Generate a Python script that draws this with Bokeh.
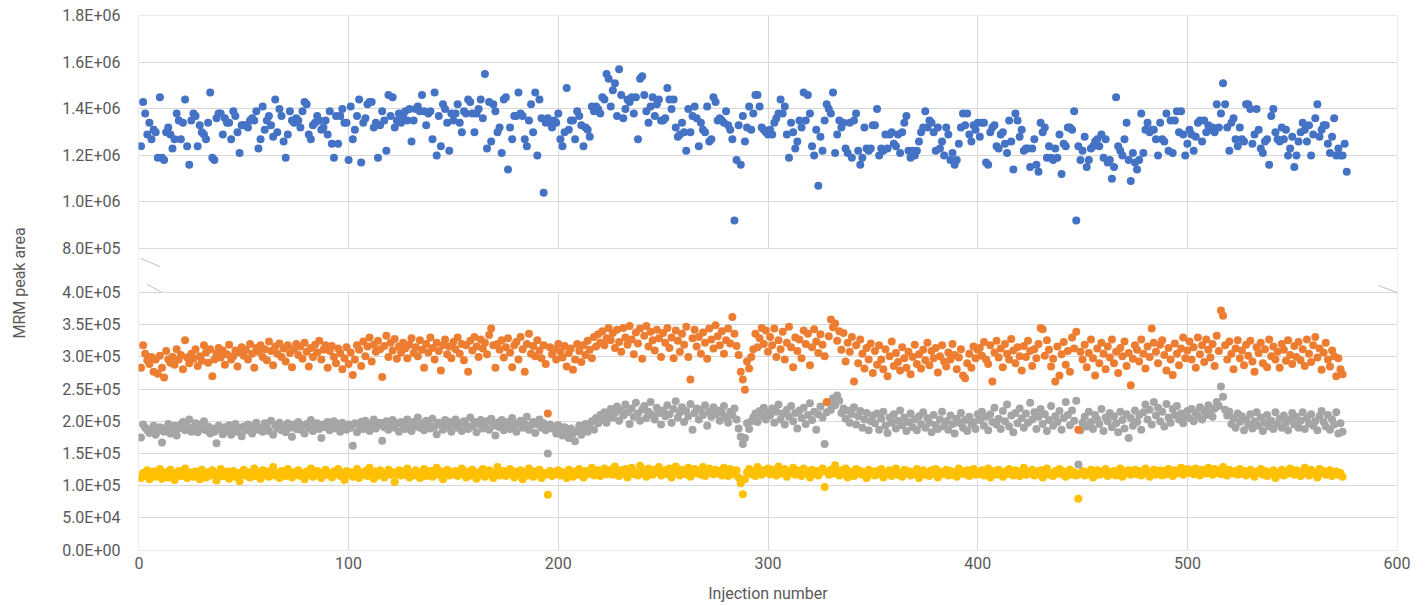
from bokeh.plotting import figure
from bokeh.models import FixedTicker, BoxAnnotation, Range1d
from bokeh.embed import file_html
from bokeh.resources import INLINE

# ---- data (values in thousands) ----
blue = [1240,1430,1380,1290,1340,1270,1310,1300,1190,1450,1190,1180,1300,1320,1290,1230,1270,1380,1350,1270,1340,1440,1240,1160,1350,
        1380,1370,1240,1330,1300,1290,1270,1340,1470,1190,1180,1360,1380,1380,1290,1360,1340,1340,1270,1390,1370,1300,1210,1330,1330,
        1330,1320,1350,1360,1350,1390,1230,1270,1410,1310,1350,1370,1330,1280,1440,1300,1400,1370,1260,1190,1290,1390,1350,1340,1360,
        1350,1320,1390,1430,1420,1290,1270,1330,1340,1370,1350,1310,1320,1350,1290,1390,1250,1190,1370,
        1250,1370,1400,1340,1340,1180,1410,1270,1310,1370,1440,1170,1340,1360,1420,1430,1430,1320,1340,1190,1330,1390,1350,1220,1460,
        1370,1450,1320,1350,1380,1340,1370,1390,1350,1400,1260,1350,1400,1410,1390,1460,1390,1330,1380,1390,1270,1470,1200,1370,1240,
        1420,1400,1340,1220,1380,1350,1380,1420,1340,1300,1390,1380,1440,1430,1380,1300,1380,1400,1440,1360,1550,1230,1430,1260,1420,
        1390,1300,1320,1210,1440,1450,1140,1320,1270,1370,1370,1470,1380,1370,1270,1240,1350,1420,1300,1470,1200,1440,1360,1040,1340,
        1360,1340,1320,1350,1340,1380,1270,1240,1300,1490,1310,1350,1350,1270,1390,1370,1330,1240,1320,1310,1280,1410,1390,1410,1400,
        1380,1450,1440,1550,1530,1410,1480,1510,1370,1570,1460,1360,1400,1440,1430,1450,1380,1450,1270,1530,1540,1460,1390,1340,1410,
        1450,1370,1420,1440,1350,1350,1360,1490,1440,1400,1440,1320,1280,1290,1340,1300,1220,1400,1300,1370,1410,1360,1240,1340,1310,
        1300,1410,1260,1270,1450,1430,1350,1360,1350,1340,1390,1330,1310,1270,920,1180,1330,1160,1370,1260,1320,1410,1310,
        1380,1460,1460,1410,1320,1310,1300,1290,1310,1290,1340,1360,1380,1440,1380,1410,1290,1190,1340,1300,1230,1260,1350,1320,1470,
        1350,1460,1380,1240,1200,1310,1070,1280,1220,1350,1420,1400,1380,1470,1210,1290,1350,1320,1340,1230,1210,1340,1190,1350,1380,
        1220,1160,1190,1320,1230,1220,1230,1330,1330,1400,1200,1230,1220,1290,1230,1290,1300,1250,1240,1290,1210,1300,1340,1370,1220,
        1190,1220,1200,1220,1260,1300,1320,1390,1320,1350,1340,1300,1220,1320,1230,1260,1200,1320,1290,1180,1210,1160,1180,1250,1320,1380,
        1330,1380,1290,1260,1330,1310,1340,1280,1340,1340,1170,1160,1300,1320,1330,1240,1230,1290,1300,1250,1210,1350,1260,1140,1380,
        1350,1280,1310,1220,1230,1230,1150,1230,1270,1160,1130,1340,1300,1320,1190,1240,1190,1180,1230,1190,1290,1120,1250,1240,1320,
        1320,1310,1390,920,1240,1180,1220,1280,1150,1180,1230,1240,1260,1270,1240,1290,1190,1270,1170,1180,1100,1150,1450,1240,1220,
        1200,1270,1340,1180,1090,1210,1170,1140,1180,1380,1210,1310,1340,1300,1310,1310,1270,1200,1340,1270,1260,1380,1220,1350,1210,
        1350,1390,1300,
        1390,1290,1200,1250,1310,1290,1220,1280,1340,1350,1260,1350,1300,1330,1310,1320,1300,1420,1320,1380,1510,1420,1320,1220,1340,
        1360,1270,1240,1320,1270,1260,1420,1420,1400,1250,1290,1400,1310,1230,1210,1260,1270,1160,1370,1400,1300,1270,1260,1320,1270,
        1310,1200,1230,1280,1150,1200,1260,1300,1340,1310,1260,1330,1200,1290,1360,1420,1280,1310,1330,1330,1250,1210,1280,1360,1200,
        1230,1200,1200,1250,1130]

orange = [283,318,305,295,289,300,277,296,274,302,283,268,309,296,291,300,288,312,296,303,281,326,299,290,305,
          297,312,286,301,294,318,307,291,312,270,296,305,314,299,310,288,304,319,296,301,310,285,307,315,302,
          311,296,320,305,283,314,308,318,300,312,295,324,309,287,316,305,321,300,313,293,318,306,284,312,320,
          303,316,297,322,308,285,314,300,319,307,325,296,311,318,283,309,317,300,290,313,306,281,298,315,289,
          307,272,296,318,311,286,324,301,316,330,293,319,308,325,312,269,317,333,300,322,310,328,297,316,307,
          322,313,298,319,329,306,315,301,326,311,283,320,307,330,314,296,322,309,279,318,327,304,316,298,323,
          312,330,305,320,295,318,277,325,310,331,316,300,327,313,322,304,334,344,318,283,320,311,326,299,315,
          329,307,284,318,323,296,331,312,277,320,336,305,317,301,326,310,298,318,289,212,315,304,312,296,320,
          308,299,317,285,306,313,280,296,320,309,292,318,303,325,311,298,331,316,335,322,340,318,329,345,326,
          337,314,342,323,308,345,330,319,348,327,304,338,321,344,297,333,348,316,339,326,310,342,329,300,337,
          322,345,314,330,298,341,325,308,336,319,347,300,265,329,342,316,331,305,338,322,297,344,327,313,349,
          332,318,340,305,326,344,321,362,336,317,303,277,265,249,293,282,300,312,336,315,329,345,320,341,308,
          331,318,344,300,326,312,339,296,322,347,315,284,330,309,327,298,341,320,336,287,315,343,324,306,335,
          319,301,230,332,358,346,352,325,340,311,337,293,322,308,331,262,318,290,327,305,282,314,296,321,275,
          309,288,318,296,281,312,270,301,324,286,306,292,279,315,298,283,308,273,300,319,289,304,282,311,295,
          322,287,309,298,314,276,301,318,293,285,307,296,320,303,281,299,312,271,267,290,305,283,316,298,311,
          314,302,323,296,289,318,262,307,325,299,313,284,320,305,296,328,310,290,315,301,279,317,300,325,309,
          286,312,298,320,345,343,302,326,311,285,297,262,316,271,304,323,288,309,277,330,313,339,187,308,296,
          319,284,306,327,298,271,313,290,322,305,281,316,299,327,290,308,275,314,301,324,286,306,256,297,318,
          311,293,327,305,282,316,300,344,322,308,290,319,326,303,279,314,296,272,321,305,287,313,330,298,310,
          324,296,315,283,330,304,318,292,327,311,299,320,286,333,309,372,364,318,296,324,305,281,313,326,298,
          310,287,319,302,325,293,277,315,306,322,290,312,284,327,301,316,296,308,283,320,311,294,326,303,289,
          317,300,323,295,312,286,327,305,292,318,331,299,313,280,307,322,296,285,310,301,270,298,281,273]

gray = [175,195,190,186,182,188,193,179,185,191,167,184,190,196,181,187,193,178,189,195,199,186,192,203,184,
        190,197,183,195,188,200,186,192,181,189,184,166,193,187,180,191,185,194,179,188,196,184,190,177,192,
        186,195,189,181,193,198,187,190,184,197,191,185,201,179,194,189,198,186,192,183,197,190,176,195,188,
        199,187,194,181,196,190,202,185,193,197,188,174,195,191,199,186,193,200,189,196,184,198,191,187,195,
        190,162,197,183,193,199,188,201,192,185,196,203,189,194,198,170,191,200,187,195,202,190,197,184,199,
        193,188,203,196,185,199,192,206,190,197,186,201,194,189,204,192,180,198,195,187,202,191,199,184,196,
        203,190,197,185,200,194,188,206,192,199,183,196,202,189,195,200,187,204,193,178,198,191,202,186,195,
        199,188,205,193,184,197,201,190,196,207,187,194,199,182,195,203,190,197,186,150,195,189,192,181,194,
        186,178,191,183,174,189,181,169,185,193,179,188,196,184,191,200,187,205,197,210,202,214,198,208,219,
        206,213,223,201,217,209,226,214,196,220,207,229,212,201,218,224,205,215,230,210,203,221,213,195,217,
        208,225,211,198,219,231,206,214,222,199,216,208,227,187,213,220,203,218,210,225,193,215,207,222,211,
        217,201,213,224,206,198,215,209,220,203,189,176,165,174,197,188,200,206,212,199,216,208,221,203,214,
        209,220,198,215,226,203,212,195,218,207,224,200,213,189,217,205,221,196,210,228,202,215,187,211,223,
        206,165,214,229,218,236,225,240,232,213,220,204,217,198,211,222,195,208,216,190,203,213,186,200,209,
        197,212,187,204,215,193,182,206,198,211,189,201,217,194,206,185,199,212,191,203,186,208,196,214,190,
        205,198,183,210,194,188,203,215,192,200,187,209,196,181,204,198,213,190,202,185,207,195,199,188,211,
        202,215,193,207,186,211,199,221,195,204,188,216,200,226,192,209,183,213,197,220,205,190,212,198,229,
        203,214,188,207,219,196,211,185,202,224,193,208,199,216,187,205,230,210,194,217,201,232,133,186,198,
        207,192,215,199,188,210,203,196,219,185,206,200,213,191,208,197,183,215,202,189,211,174,205,193,217,
        199,210,187,214,226,203,218,195,230,209,221,200,215,192,227,206,198,219,210,224,203,212,197,208,216,
        205,219,200,213,208,222,203,216,210,225,214,207,220,230,224,254,238,218,209,215,196,205,190,212,199,
        208,186,203,195,211,189,200,214,193,206,185,198,210,192,201,188,214,196,204,190,209,198,186,203,213,
        195,207,190,201,214,188,205,197,211,193,200,186,208,216,199,192,210,187,203,195,214,181,197,184]

yellow = [112,120,116,124,110,118,122,114,119,126,111,117,121,113,125,116,109,120,123,115,118,127,112,119,121,
          114,122,117,110,125,119,113,121,116,124,118,108,120,126,115,119,122,111,117,123,114,120,107,118,125,
          116,121,113,119,127,115,120,111,124,117,122,114,118,129,116,120,112,123,118,115,126,119,113,121,117,
          124,115,120,110,122,118,127,114,119,123,116,112,121,125,117,119,113,122,118,126,115,120,109,123,117,
          121,114,119,126,112,120,117,123,115,128,118,111,122,116,124,119,113,120,125,117,121,106,118,124,116,
          122,117,127,113,120,116,124,118,112,121,126,115,119,123,114,120,128,117,122,110,119,125,116,121,118,
          123,115,120,127,118,113,122,116,125,119,111,121,117,126,114,120,124,118,112,121,129,116,119,123,115,
          120,126,117,113,122,118,124,110,121,116,127,119,114,122,118,125,112,120,117,86,123,115,121,118,124,
          116,121,118,112,125,119,114,122,117,126,120,113,123,118,121,128,116,119,124,115,122,127,118,121,125,
          117,130,120,115,124,119,126,113,122,128,118,121,116,131,119,124,114,127,120,117,125,122,129,116,121,
          124,118,127,113,121,130,119,116,125,122,118,128,114,121,126,119,124,117,129,115,122,127,120,118,125,
          119,123,116,128,121,115,126,122,118,124,113,104,87,110,121,126,118,123,115,129,120,117,124,121,127,
          118,125,121,116,130,122,119,126,114,123,120,128,117,124,121,115,127,119,122,113,125,118,123,116,121,
          127,98,122,117,125,119,132,121,116,124,118,127,113,122,120,115,126,119,123,117,121,112,125,118,122,
          116,123,119,126,113,121,118,124,115,122,127,117,120,114,125,119,123,116,121,118,126,112,120,124,117,
          121,115,124,119,126,113,122,118,120,125,116,123,117,121,114,127,119,122,118,124,115,120,126,117,121,
          118,124,116,121,127,113,120,123,117,125,119,114,122,118,126,121,116,124,120,115,123,128,117,121,119,
          125,116,122,118,124,113,121,127,117,120,115,123,119,126,118,122,114,120,125,117,121,116,80,119,123,
          116,121,118,125,113,120,124,117,122,119,126,115,121,118,123,116,120,127,114,122,119,124,117,121,125,
          118,123,116,121,127,119,114,122,125,117,120,124,116,123,118,126,121,115,124,119,122,128,117,121,126,
          120,124,118,127,122,116,125,121,119,128,123,117,126,120,124,118,129,122,116,125,121,119,123,117,126,
          119,123,116,121,125,118,114,122,120,126,117,123,115,121,119,124,112,120,118,125,116,122,119,127,121,
          117,124,120,115,122,128,119,116,125,121,118,113,126,120,123,117,121,124,115,119,122,117,120,114]

x_ticks = [0, 100, 200, 300, 400, 500, 600]
bottom_ticks = [0, 50, 100, 150, 200, 250, 300, 350, 400]
bottom_labels = ["0.0E+00", "5.0E+04", "1.0E+05", "1.5E+05", "2.0E+05",
                 "2.5E+05", "3.0E+05", "3.5E+05", "4.0E+05"]
top_ticks = [800, 1000, 1200, 1400, 1600, 1800]
top_labels = ["8.0E+05", "1.0E+06", "1.2E+06", "1.4E+06", "1.6E+06", "1.8E+06"]

# ---- broken-axis mapping (panel heights in axis units) ----
BOT_H, GAP, TOP_H = 258, 44, 233


def y_bot(v):
    return v * BOT_H / 400


def y_top(v):
    return BOT_H + GAP + (v - 800) * TOP_H / 1000


FONT = "Roboto"
TXT = "#595959"
GRID = "#d9d9d9"

p = figure(width=1419, height=604, frame_width=1259, frame_height=535,
           x_range=Range1d(-0.2, 600.2), y_range=Range1d(-0.3, BOT_H + GAP + TOP_H + 0.3),
           output_backend="svg", toolbar_location=None,
           min_border_left=138, min_border_right=22, min_border_top=15, min_border_bottom=54)
p.outline_line_color = None
p.background_fill_color = "white"
p.border_fill_color = "white"

yt = [y_bot(v) for v in bottom_ticks] + [y_top(v) for v in top_ticks]
overrides = {y_bot(v): s for v, s in zip(bottom_ticks, bottom_labels)}
overrides.update({y_top(v): s for v, s in zip(top_ticks, top_labels)})

p.xaxis.ticker = FixedTicker(ticks=x_ticks)
p.yaxis.ticker = FixedTicker(ticks=yt)
p.yaxis.major_label_overrides = overrides
p.xgrid.ticker = FixedTicker(ticks=x_ticks)
p.ygrid.ticker = FixedTicker(ticks=yt)
for g in (p.xgrid, p.ygrid):
    g.grid_line_color = GRID
    g.grid_line_width = 1

for ax in (p.xaxis, p.yaxis):
    ax.axis_line_color = None
    ax.major_tick_line_color = None
    ax.minor_tick_line_color = None
    ax.major_label_text_font = FONT
    ax.major_label_text_font_size = "16px"
    ax.major_label_text_color = TXT
    ax.axis_label_text_font = FONT
    ax.axis_label_text_font_size = "16px"
    ax.axis_label_text_font_style = "normal"
    ax.axis_label_text_color = TXT

p.xaxis.axis_label = "Injection number"
p.xaxis.major_tick_out = 0
p.xaxis.major_tick_in = 0
p.xaxis.major_label_standoff = 6
p.xaxis.axis_label_standoff = 12
p.yaxis.axis_label = "MRM peak area"
p.yaxis.major_label_standoff = 12
p.yaxis.axis_label_standoff = 30

# white gap between the two panels
gap_box = BoxAnnotation(bottom=BOT_H + 0.6, top=BOT_H + GAP - 0.6,
                        fill_color="white", fill_alpha=1.0, line_color=None, level="glyph")
p.add_layout(gap_box)


def xs(vals):
    return list(range(1, len(vals) + 1))


p.scatter(xs(blue), [y_top(v) for v in blue], size=8, fill_color="#4472C4", line_color=None)
p.scatter(xs(yellow), [y_bot(v) for v in yellow], size=8, fill_color="#FFC000", line_color=None)
p.scatter(xs(gray), [y_bot(v) for v in gray], size=8, fill_color="#A5A5A5", line_color=None)
p.scatter(xs(orange), [y_bot(v) for v in orange], size=8, fill_color="#ED7D31", line_color=None)

# axis-break marks
p.segment(x0=[1, 4, 591], y0=[BOT_H + 34, BOT_H + 8, BOT_H + 7],
          x1=[10, 11, 600], y1=[BOT_H + 26, BOT_H, BOT_H],
          line_color="#bfbfbf", line_width=1, level="overlay")

open("out.html", "w").write(file_html(p, INLINE))
